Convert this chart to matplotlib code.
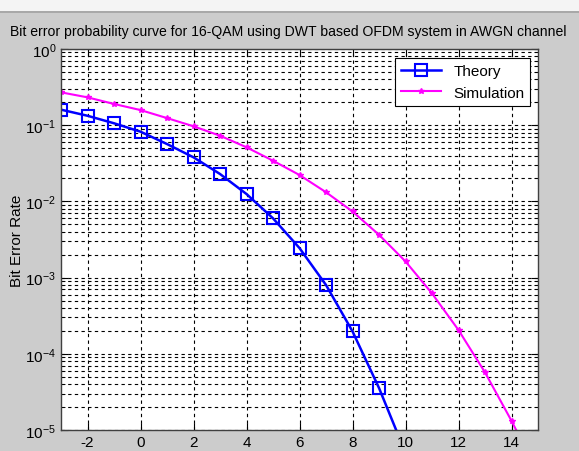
import numpy as np
import matplotlib
matplotlib.use('Agg')
import matplotlib.pyplot as plt
from matplotlib.ticker import LogLocator, NullFormatter, FixedLocator

plt.rcParams['font.family'] = ['Liberation Sans', 'DejaVu Sans']
plt.rcParams['mathtext.fontset'] = 'custom'
plt.rcParams['mathtext.rm'] = 'Liberation Sans'
plt.rcParams['mathtext.it'] = 'Liberation Sans:italic'
plt.rcParams['axes.unicode_minus'] = False

# SNR (dB) and BER values
snr_theory = [-3, -2, -1, 0, 1, 2, 3, 4, 5, 6, 7, 8, 9, 10]
ber_theory = [0.160, 0.133, 0.106, 0.0822, 0.0566, 0.0379, 0.0229, 0.0125,
              6.0e-3, 2.44e-3, 8.0e-4, 1.97e-4, 3.56e-5, 5.0e-6]
snr_sim = [-3, -2, -1, 0, 1, 2, 3, 4, 5, 6, 7, 8, 9, 10, 11, 12, 13, 14, 15]
ber_sim = [0.270, 0.232, 0.190, 0.158, 0.124, 0.0968, 0.0728, 0.0513,
           0.0342, 0.0222, 0.0132, 7.37e-3, 3.65e-3, 1.63e-3, 6.2e-4,
           2.05e-4, 5.7e-5, 1.32e-5, 2.7e-6]
x_ticks = [-2, 0, 2, 4, 6, 8, 10, 12, 14]

title = 'Bit error probability curve for 16-QAM using DWT based OFDM system in AWGN channel'

W, H = 579, 452
fig = plt.figure(figsize=(W / 100, H / 100), dpi=100)
fig.patch.set_facecolor('#cccccc')

# toolbar strip at the top of the screenshot
fig.patches.append(plt.Rectangle((0, 1 - 12 / H), 1, 12 / H, transform=fig.transFigure,
                                 facecolor='#f4f4f4', edgecolor='none'))
fig.patches.append(plt.Rectangle((0, 1 - 14 / H), 1, 2 / H, transform=fig.transFigure,
                                 facecolor='#a8a8a8', edgecolor='none'))

left, right, top, bottom = 61, 538, 50, 431
ax = fig.add_axes([left / W, 1 - bottom / H, (right - left) / W, (bottom - top) / H])
ax.set_facecolor('white')

ax.semilogy(snr_theory, ber_theory, '-s', color='#0000ff', lw=1.8,
            markersize=8.5, markerfacecolor='none', markeredgewidth=1.5,
            label='Theory')
ax.semilogy(snr_sim, ber_sim, '-*', color='#ff00ff', lw=1.5,
            markersize=4, label='Simulation')

ax.set_xlim(-3, 15)
ax.set_ylim(1e-5, 1)
ax.xaxis.set_major_locator(FixedLocator(x_ticks))
ax.yaxis.set_major_locator(LogLocator(base=10, numticks=10))
ax.yaxis.set_minor_locator(LogLocator(base=10, subs=np.arange(2, 10), numticks=20))
ax.yaxis.set_minor_formatter(NullFormatter())

ax.grid(True, which='major', color='black', linestyle=(0, (3, 3)), lw=0.8)
ax.grid(True, which='minor', axis='y', color='black', linestyle=(0, (3, 3)), lw=0.8)
ax.tick_params(which='both', direction='in', top=True, right=True, labelsize=11,
               colors='black')
ax.tick_params(which='major', length=5)
ax.tick_params(which='minor', length=3)
for s in ax.spines.values():
    s.set_color('#404040')
    s.set_linewidth(1.0)

ax.set_ylabel('Bit Error Rate', fontsize=11, labelpad=1)

fig.text(10 / W, 1 - 32 / H, title, fontsize=10.1, ha='left', va='center')

leg = ax.legend(loc='upper right', fontsize=11, fancybox=False, framealpha=1,
                edgecolor='black', borderpad=0.4, handlelength=2.6,
                bbox_to_anchor=(1.0, 0.997))
leg.get_frame().set_linewidth(0.8)

fig.savefig('out.png', dpi=100, facecolor=fig.get_facecolor())
